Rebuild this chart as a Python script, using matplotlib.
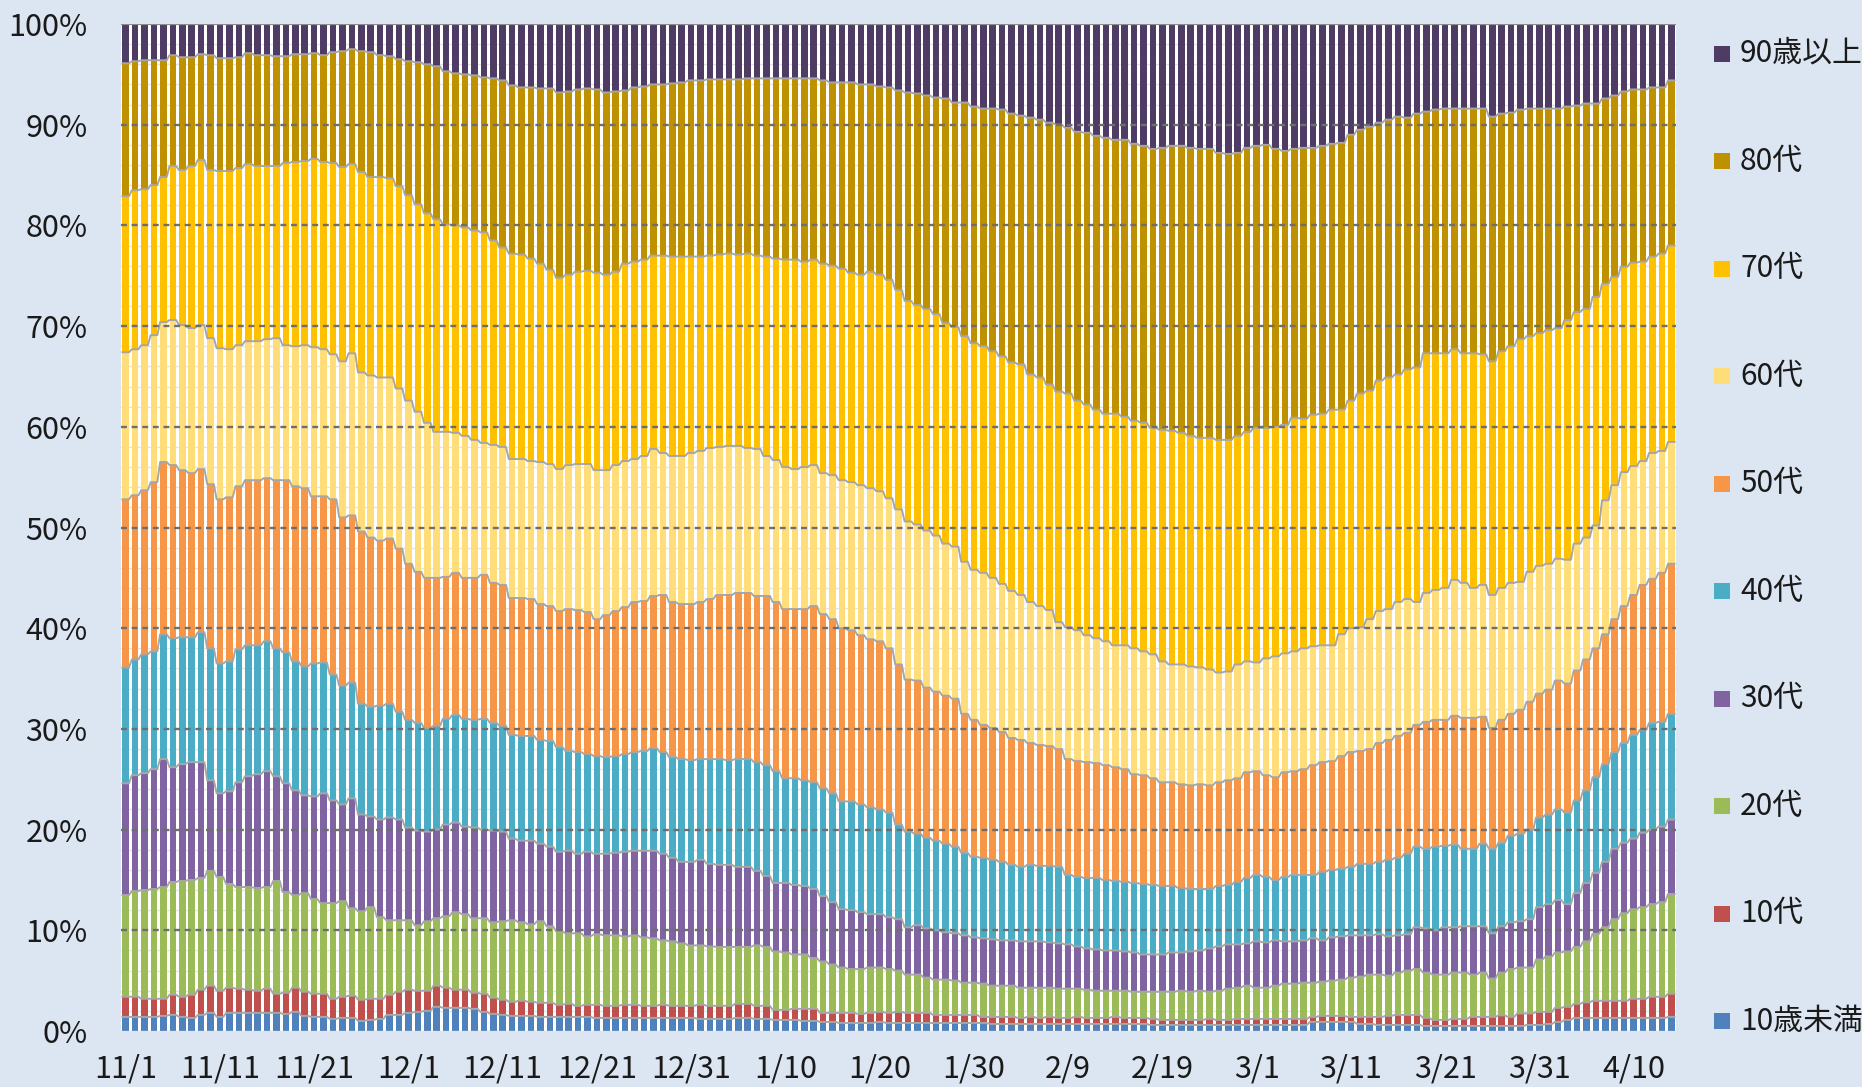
import numpy as np
import pandas as pd
import matplotlib
matplotlib.use('Agg')
import matplotlib.pyplot as plt
from matplotlib.patches import Rectangle

plt.rcParams['font.family'] = ['Noto Sans CJK JP', 'DejaVu Sans']

# 日付 (2020/11/1 - 2021/4/14)
dates = pd.date_range('2020-11-01', '2021-04-14', freq='D')
tick_labels = ['11/1', '11/11', '11/21', '12/1', '12/11', '12/21', '12/31', '1/10', '1/20',
               '1/30', '2/9', '2/19', '3/1', '3/11', '3/21', '3/31', '4/10']

groups = ['10歳未満', '10代', '20代', '30代', '40代', '50代', '60代', '70代', '80代', '90歳以上']
colors = ['#4F81BD', '#C0504D', '#9BBB59', '#8064A2', '#4BACC6', '#F79646',
          '#FFDE7A', '#FFC000', '#BF9000', '#4E3C64']

# 累積割合(%) : 各年代の上端
cum_u10 = [1.4, 1.4, 1.4, 1.4, 1.5, 1.6, 1.4, 1.3, 1.6, 1.8, 1.4, 1.8, 1.8, 1.8, 1.8, 1.8, 1.8, 1.7, 1.9, 1.5,
           1.4, 1.4, 1.2, 1.3, 1.3, 1.0, 1.1, 1.2, 1.6, 1.6, 1.8, 1.9, 2.0, 2.4, 2.3, 2.3, 2.3, 2.2, 1.9, 1.7,
           1.6, 1.5, 1.5, 1.5, 1.4, 1.4, 1.4, 1.4, 1.4, 1.4, 1.3, 1.3, 1.3, 1.3, 1.3,
           1.3, 1.3, 1.3, 1.3, 1.3, 1.3, 1.2, 1.2, 1.2, 1.2, 1.3, 1.3, 1.2, 1.2, 1.1, 1.1, 1.1, 1.0, 1.0, 0.9,
           0.9, 0.8, 0.8, 0.8, 0.8, 0.9, 0.8,
           0.8, 0.8, 0.8, 0.8, 0.8, 0.8, 0.8, 0.8, 0.8, 0.8, 0.7, 0.7, 0.7, 0.7, 0.7, 0.7, 0.7, 0.7, 0.7, 0.7,
           0.7, 0.7, 0.7, 0.7, 0.7, 0.7, 0.7, 0.6,
           0.6, 0.6, 0.6, 0.6, 0.6, 0.6, 0.6, 0.6, 0.6, 0.6, 0.6, 0.6, 0.6, 0.6, 0.6, 0.6, 0.9, 0.9, 0.9, 0.9,
           0.9, 0.7, 0.7, 0.6, 0.6, 0.6, 0.6,
           0.6, 0.5, 0.5, 0.5, 0.5, 0.5, 0.5, 0.5, 0.5, 0.5, 0.5, 0.5, 0.6, 0.6, 0.7, 0.9, 1.1, 1.3, 1.3, 1.3,
           1.3, 1.3, 1.3, 1.3, 1.3, 1.3, 1.3, 1.4]
cum_10s = [3.4, 3.4, 3.2, 3.2, 3.2, 3.6, 3.4, 3.6, 4.1, 4.5, 4.0, 4.3, 4.2, 4.1, 4.0, 4.2, 3.7, 3.8, 4.3, 3.9,
           3.7, 3.7, 3.2, 3.4, 3.5, 3.1, 3.2, 3.2, 3.6, 3.9, 4.1, 4.0, 4.0, 4.5, 4.3, 4.1, 4.1, 3.8, 3.7, 3.3,
           3.1, 2.9, 3.0, 2.9, 2.8, 2.8, 2.6, 2.7, 2.5, 2.6, 2.6, 2.5, 2.5, 2.6, 2.6,
           2.5, 2.5, 2.6, 2.5, 2.5, 2.5, 2.6, 2.5, 2.5, 2.5, 2.7, 2.7, 2.5, 2.5, 2.1, 2.1, 2.2, 2.2, 2.2, 1.8,
           1.8, 1.8, 1.8, 1.7, 1.8, 1.9, 1.8,
           1.9, 1.8, 1.8, 1.8, 1.6, 1.6, 1.6, 1.6, 1.6, 1.4, 1.4, 1.4, 1.4, 1.3, 1.4, 1.3, 1.4, 1.3, 1.3, 1.4,
           1.3, 1.3, 1.3, 1.4, 1.3, 1.3, 1.3, 1.2,
           1.1, 1.1, 1.1, 1.1, 1.1, 1.2, 1.1, 1.1, 1.2, 1.2, 1.2, 1.2, 1.2, 1.2, 1.2, 1.2, 1.4, 1.5, 1.5, 1.5,
           1.4, 1.4, 1.4, 1.4, 1.5, 1.6, 1.6,
           1.6, 1.3, 1.1, 1.1, 1.2, 1.2, 1.4, 1.4, 1.4, 1.55, 1.4, 1.75, 1.75, 1.9, 1.9, 2.3, 2.4, 2.7, 2.85, 3.0,
           3.0, 3.0, 3.0, 3.2, 3.2, 3.4, 3.4, 3.7]
cum_20s = [13.5, 13.9, 14.0, 14.1, 14.3, 14.8, 14.9, 15.0, 15.2, 15.9, 15.3, 14.6, 14.3, 14.3, 14.2, 14.3, 14.9,
           13.8, 13.5, 13.7, 13.1, 12.7, 12.7, 12.9, 12.2, 11.9, 12.3, 11.3, 11.0, 11.0, 11.0, 10.5, 10.9, 11.2,
           11.4, 11.8, 11.6, 11.2, 11.2, 10.8, 10.9, 11.0, 10.8, 10.6, 10.9, 10.4, 9.9, 9.7,
           9.7, 9.4, 9.6, 9.5, 9.5, 9.4, 9.5,
           9.3, 9.2, 9.0, 8.9, 8.7, 8.5, 8.5, 8.4, 8.35, 8.35, 8.35, 8.35, 8.5, 8.35, 7.9, 7.8, 7.6, 7.6, 7.25,
           6.9, 6.6, 6.3, 6.15, 6.15, 6.3, 6.3, 6.15,
           6.0, 5.6, 5.6, 5.3, 5.1, 5.1, 5.0, 4.8, 4.8, 4.7, 4.5, 4.5, 4.5, 4.3, 4.3, 4.3, 4.3, 4.2, 4.2, 4.2,
           4.1, 4.0, 4.0, 4.0, 4.0, 3.9, 3.9, 3.9,
           3.9, 3.9, 4.0, 3.9, 4.0, 3.9, 4.0, 4.2, 4.3, 4.5, 4.3, 4.3, 4.5, 4.7, 4.7, 4.8, 4.8, 4.9, 5.0, 5.1,
           5.3, 5.4, 5.6, 5.6, 5.5, 5.8, 6.0,
           6.15, 5.8, 5.6, 5.6, 5.8, 5.8, 5.6, 5.8, 5.2, 5.8, 6.15, 6.3, 6.3, 7.1, 7.4, 7.8, 7.9, 8.35, 8.9, 9.65,
           10.3, 11.1, 11.7, 12.1, 12.3, 12.6, 12.8, 13.6]
cum_30s = [24.6, 25.4, 25.6, 26.0, 27.0, 26.2, 26.5, 26.7, 26.7, 24.9, 23.6, 23.8, 24.7, 25.3, 25.5, 25.8, 25.3,
           24.6, 23.9, 23.4, 23.3, 23.6, 22.9, 22.5, 23.1, 21.5, 21.3,
           21.0, 21.2, 21.0, 20.2, 19.9, 19.8, 20.0, 20.5, 20.7, 20.3, 20.2, 20.0, 19.9, 19.8, 19.1, 18.9, 18.9,
           18.6, 18.3, 17.8, 17.9, 17.6, 17.8, 17.6, 17.6, 17.7, 17.8, 17.9,
           17.9, 17.9, 17.6, 17.2, 16.8, 16.8, 17.0, 16.6, 16.5, 16.5, 16.3, 16.3, 15.9, 15.4, 14.7, 14.7, 14.5,
           14.4, 14.1, 13.4, 12.8, 12.1, 12.0, 11.8, 11.6, 11.6, 11.3,
           11.1, 10.3, 10.5, 10.2, 10.0, 9.8, 9.7, 9.5, 9.3, 9.2, 9.1, 9.0, 9.0, 8.9, 8.9, 8.9, 8.8, 8.7, 8.6,
           8.4, 8.2, 8.1, 8.0, 8.0, 7.9, 7.8, 7.6, 7.6,
           7.6, 7.8, 7.8, 7.9, 8.0, 8.2, 8.4, 8.6, 8.6, 8.7, 8.9, 8.8, 9.0, 8.9, 8.9, 9.0, 9.2, 9.0, 9.3, 9.4,
           9.5, 9.5, 9.5, 9.6, 9.4, 9.5, 9.6,
           10.3, 10.2, 10.0, 10.3, 10.3, 10.4, 10.4, 10.4, 9.7, 10.4, 10.8, 10.9, 11.1, 12.3, 12.6, 13.0, 12.6,
           13.7, 14.7, 15.7, 16.8, 18.1, 18.7, 19.1, 19.7, 20.0, 20.3, 21.0]
cum_40s = [36.1, 36.9, 37.4, 37.7, 39.4, 39.0, 39.1, 39.1, 39.6, 38.0, 36.5, 36.7, 37.9, 38.3, 38.3, 38.7, 38.0,
           37.6, 36.7, 36.2, 36.5, 36.6, 35.4, 34.3, 34.6, 32.5, 32.2,
           32.3, 32.5, 31.7, 30.9, 30.6, 30.1, 30.3, 31.0, 31.4, 31.0, 30.9, 31.0, 30.6, 30.3, 29.4, 29.3, 29.3,
           28.9, 28.8, 28.2, 27.8, 27.7, 27.5, 27.3, 27.2, 27.3, 27.5, 27.7,
           27.8, 28.1, 27.7, 27.2, 27.0, 26.9, 27.0, 27.0, 27.0, 26.9, 27.0, 27.0, 26.7, 26.4, 25.8, 25.1, 25.1,
           24.9, 24.7, 24.1, 23.6, 22.8, 22.8, 22.5, 22.2, 22.0, 21.7,
           20.5, 19.8, 19.6, 19.2, 18.9, 18.6, 18.3, 17.7, 17.3, 17.2, 17.0, 16.8, 16.5, 16.3, 16.5, 16.4, 16.4,
           16.3, 15.5, 15.3, 15.2, 15.2, 15.0, 14.9, 14.8, 14.7, 14.6, 14.5,
           14.4, 14.4, 14.2, 14.1, 14.1, 14.1, 14.4, 14.5, 14.8, 15.2, 15.5, 15.3, 15.0, 15.3, 15.5, 15.5, 15.5,
           15.8, 16.0, 16.1, 16.3, 16.6, 16.6, 16.8, 17.0, 17.2, 17.6,
           18.3, 18.1, 18.3, 18.4, 18.5, 18.1, 18.1, 18.6, 18.1, 18.7, 19.4, 19.6, 20.0, 21.2, 21.5, 22.0, 21.7,
           22.9, 23.9, 25.2, 26.5, 27.7, 28.6, 29.4, 29.9, 30.6, 30.7, 31.5]
cum_50s = [52.8, 53.2, 53.7, 54.5, 56.5, 56.2, 55.7, 55.4, 55.8, 54.3, 52.8, 53.0, 54.1, 54.7, 54.7, 54.9, 54.7,
           54.7, 54.1, 53.9, 53.1, 53.1, 52.8, 51.0, 51.2, 49.6, 49.0,
           48.7, 48.9, 47.9, 46.4, 45.6, 45.0, 45.0, 45.1, 45.5, 45.0, 45.0, 45.3, 44.5, 44.3, 43.0, 43.0, 42.9,
           42.4, 42.2, 41.7, 41.9, 41.8, 41.6, 40.9, 41.3, 41.7, 42.1, 42.6,
           42.7, 43.2, 43.3, 42.6, 42.4, 42.4, 42.6, 42.9, 43.3, 43.3, 43.5, 43.5, 43.2, 43.2, 42.6, 41.9, 41.9,
           41.9, 42.2, 41.4, 40.9, 40.0, 39.8, 39.3, 38.9, 38.7, 38.0,
           36.4, 34.9, 34.8, 34.1, 33.7, 33.3, 33.0, 31.5, 30.9, 30.4, 30.1, 29.7, 29.1, 28.9, 28.6, 28.4, 28.3,
           28.0, 27.0, 26.8, 26.7, 26.6, 26.4, 26.2, 26.0, 25.5, 25.4, 25.1,
           24.7, 24.7, 24.5, 24.4, 24.5, 24.4, 24.7, 24.9, 25.1, 25.7, 25.8, 25.4, 25.2, 25.7, 25.8, 26.0, 26.4,
           26.7, 26.8, 27.3, 27.7, 27.8, 28.0, 28.6, 28.9, 29.3, 29.6,
           30.4, 30.7, 30.9, 30.9, 31.3, 31.1, 31.1, 31.2, 30.1, 30.9, 31.5, 31.9, 32.7, 33.5, 33.9, 34.8, 34.5,
           35.8, 36.9, 38.0, 39.4, 40.9, 42.2, 43.3, 44.3, 44.9, 45.5, 46.4]
cum_60s = [67.4, 67.7, 68.1, 69.1, 70.4, 70.6, 70.1, 69.8, 70.1, 68.8, 67.8, 67.7, 68.1, 68.5, 68.5, 68.7, 68.8,
           68.1, 68.0, 68.1, 67.9, 67.7, 67.2, 66.5, 67.3, 65.4, 65.1,
           64.9, 64.9, 63.8, 62.6, 61.5, 60.4, 59.5, 59.5, 59.4, 59.1, 58.7, 58.4, 58.2, 58.0, 56.8, 56.8, 56.6,
           56.5, 56.3, 55.8, 56.2, 56.3, 56.3, 55.7, 55.7, 56.2, 56.6, 56.8,
           57.1, 57.8, 57.4, 57.1, 57.1, 57.4, 57.6, 57.9, 58.0, 58.1, 58.1, 57.9, 57.8, 57.1, 56.7, 56.0, 55.8,
           56.0, 56.2, 55.4, 55.2, 54.7, 54.5, 54.2, 53.9, 53.6, 52.9,
           51.8, 50.6, 50.3, 49.7, 49.2, 48.4, 48.1, 46.6, 45.8, 45.5, 45.0, 44.4, 43.7, 43.3, 42.6, 42.2, 41.8,
           40.6, 40.1, 39.8, 39.3, 39.0, 38.7, 38.3, 38.3, 38.0, 37.7, 37.4,
           36.7, 36.4, 36.4, 36.2, 36.1, 35.9, 35.6, 35.7, 36.4, 36.7, 36.6, 37.0, 37.2, 37.5, 37.7, 38.0, 38.2,
           38.3, 38.3, 39.4, 40.0, 40.1, 40.9, 41.7, 41.9, 42.6, 42.9,
           42.6, 43.5, 43.8, 44.0, 44.8, 44.5, 44.0, 44.3, 43.3, 44.0, 44.5, 44.6, 45.6, 46.2, 46.4, 46.9, 46.8,
           48.4, 49.0, 50.2, 52.7, 54.2, 55.5, 56.1, 56.6, 57.4, 57.6, 58.5]
cum_70s = [82.9, 83.5, 83.6, 84.0, 84.8, 85.9, 85.5, 85.9, 86.5, 85.5, 85.4, 85.4, 85.7, 86.1, 85.9, 85.9, 85.9,
           86.2, 86.3, 86.4, 86.6, 86.3, 86.2, 85.8, 86.1, 85.3, 84.8,
           84.8, 84.7, 83.9, 83.0, 82.1, 81.2, 80.6, 80.1, 80.0, 79.8, 79.5, 79.3, 78.5, 77.8, 77.2, 77.1, 76.7,
           76.2, 75.6, 74.8, 75.1, 75.4, 75.5, 75.3, 75.1, 75.4, 76.2, 76.4,
           76.6, 77.0, 77.0, 76.9, 76.9, 76.9, 76.9, 77.0, 77.1, 77.2, 77.1, 77.2, 77.0, 76.9, 76.7, 76.6, 76.6,
           76.4, 76.6, 76.2, 76.0, 75.7, 75.3, 75.1, 75.4, 75.1, 74.6,
           73.6, 72.5, 72.1, 71.7, 71.2, 70.3, 69.9, 69.0, 68.3, 68.0, 67.5, 67.0, 66.4, 66.2, 65.2, 64.9, 64.2,
           63.5, 63.3, 62.6, 62.2, 61.7, 61.3, 61.3, 61.0, 60.6, 60.4, 59.9,
           59.7, 59.6, 59.4, 59.1, 58.9, 58.9, 58.7, 58.7, 59.1, 59.5, 59.9, 59.9, 60.0, 60.2, 60.9, 60.8, 61.2,
           61.3, 61.7, 61.7, 62.6, 63.3, 63.6, 64.6, 64.9, 65.2, 65.7,
           65.9, 67.3, 67.3, 67.3, 67.7, 67.3, 67.3, 67.2, 66.5, 67.5, 68.0, 68.7, 69.0, 69.3, 69.6, 69.8, 70.6,
           71.4, 71.7, 72.9, 74.2, 74.9, 75.9, 76.3, 76.4, 76.9, 77.2, 78.0]
cum_80s = [96.1, 96.3, 96.4, 96.4, 96.4, 96.9, 96.7, 96.7, 97.0, 96.9, 96.6, 96.6, 96.7, 97.1, 96.9, 96.9, 96.8,
           96.8, 97.0, 97.0, 97.1, 96.9, 97.2, 97.3, 97.5, 97.3, 97.2,
           96.9, 96.8, 96.5, 96.3, 96.2, 96.0, 95.8, 95.3, 95.1, 95.0, 94.9, 94.7, 94.6, 94.4, 93.9, 93.7, 93.7,
           93.6, 93.6, 93.2, 93.3, 93.5, 93.6, 93.5, 93.2, 93.3, 93.4, 93.7,
           93.8, 94.0, 94.0, 94.1, 94.2, 94.4, 94.4, 94.5, 94.5, 94.5, 94.5, 94.6, 94.6, 94.6, 94.6, 94.6, 94.6,
           94.6, 94.6, 94.4, 94.2, 94.2, 94.2, 94.0, 94.0, 93.8, 93.7,
           93.4, 93.2, 93.1, 92.9, 92.7, 92.6, 92.2, 92.2, 91.8, 91.6, 91.6, 91.5, 91.1, 90.9, 90.7, 90.5, 90.2,
           90.0, 89.7, 89.3, 89.2, 88.9, 88.7, 88.5, 88.5, 88.1, 87.9, 87.6,
           87.7, 87.9, 87.9, 87.7, 87.6, 87.6, 87.2, 87.1, 87.2, 87.7, 87.9, 88.0, 87.6, 87.4, 87.6, 87.7, 87.7,
           87.9, 88.1, 88.2, 89.0, 89.5, 89.8, 90.2, 90.5, 90.8, 90.7,
           91.1, 91.3, 91.5, 91.6, 91.6, 91.6, 91.6, 91.6, 90.8, 91.1, 91.2, 91.5, 91.6, 91.6, 91.6, 91.6, 91.8,
           91.9, 92.1, 92.1, 92.6, 92.9, 93.3, 93.5, 93.5, 93.7, 93.7, 94.4]
cum_90 = [100.0] * len(dates)

cums = [cum_u10, cum_10s, cum_20s, cum_30s, cum_40s, cum_50s, cum_60s, cum_70s, cum_80s, cum_90]
cum = np.array(cums)
bottoms = np.vstack([np.zeros(cum.shape[1]), cum[:-1]])
shares = cum - bottoms

W, H = 1862, 1087
fig = plt.figure(figsize=(W / 100, H / 100), dpi=100)
fig.patch.set_facecolor('#DCE6F2')
ax = fig.add_axes([121 / W, 1 - 1031 / H, (1676 - 121) / W, (1031 - 24) / H])
ax.set_facecolor('white')

x = np.arange(len(dates))
bw = 0.7

# 補助目盛線
for v in range(2, 100, 2):
    if v % 10:
        ax.axhline(v, color='#E4E4E4', lw=1.0, zorder=0)

for i in range(len(groups)):
    ax.bar(x, shares[i], bottom=bottoms[i], width=bw, color=colors[i], linewidth=0, zorder=2)

# 区分線
xs = np.column_stack([x - bw / 2, x + bw / 2]).ravel()
for i in range(len(groups) - 1):
    ax.plot(xs, np.repeat(cum[i], 2), color='#A6A6A6', lw=1.4, zorder=3)

for v in range(10, 100, 10):
    ax.axhline(v, color='#6E6E6E', lw=1.7, ls=(0, (2.5, 2)), zorder=4)
ax.axhline(100, color='#8C8C8C', lw=1.6, zorder=4)
ax.axhline(0, color='#BFBFBF', lw=1.0, zorder=4)

ax.set_xlim(-0.5, len(dates) - 0.5)
ax.set_ylim(0, 100)
ax.set_yticks(range(0, 101, 10))
ax.set_yticklabels([f'{v}%' for v in range(0, 101, 10)])
ax.set_xticks(range(0, len(dates), 10))
ax.set_xticklabels(tick_labels)
ax.tick_params(axis='both', length=0, labelsize=22, colors='#1A1A1A')
ax.tick_params(axis='y', pad=24)
ax.tick_params(axis='x', pad=16)
for s in ax.spines.values():
    s.set_visible(False)

# 凡例
for i, g in enumerate(groups):
    yc = 1021 - 107.5 * i
    fig.patches.append(Rectangle((1714 / W, 1 - (yc + 8) / H), 16 / W, 16 / H,
                                 transform=fig.transFigure, facecolor=colors[i], edgecolor='none'))
    fig.text(1740 / W, 1 - yc / H, g, fontsize=21.5, color='#1A1A1A', va='center', ha='left')

fig.savefig('out.png', dpi=100, facecolor=fig.get_facecolor())
